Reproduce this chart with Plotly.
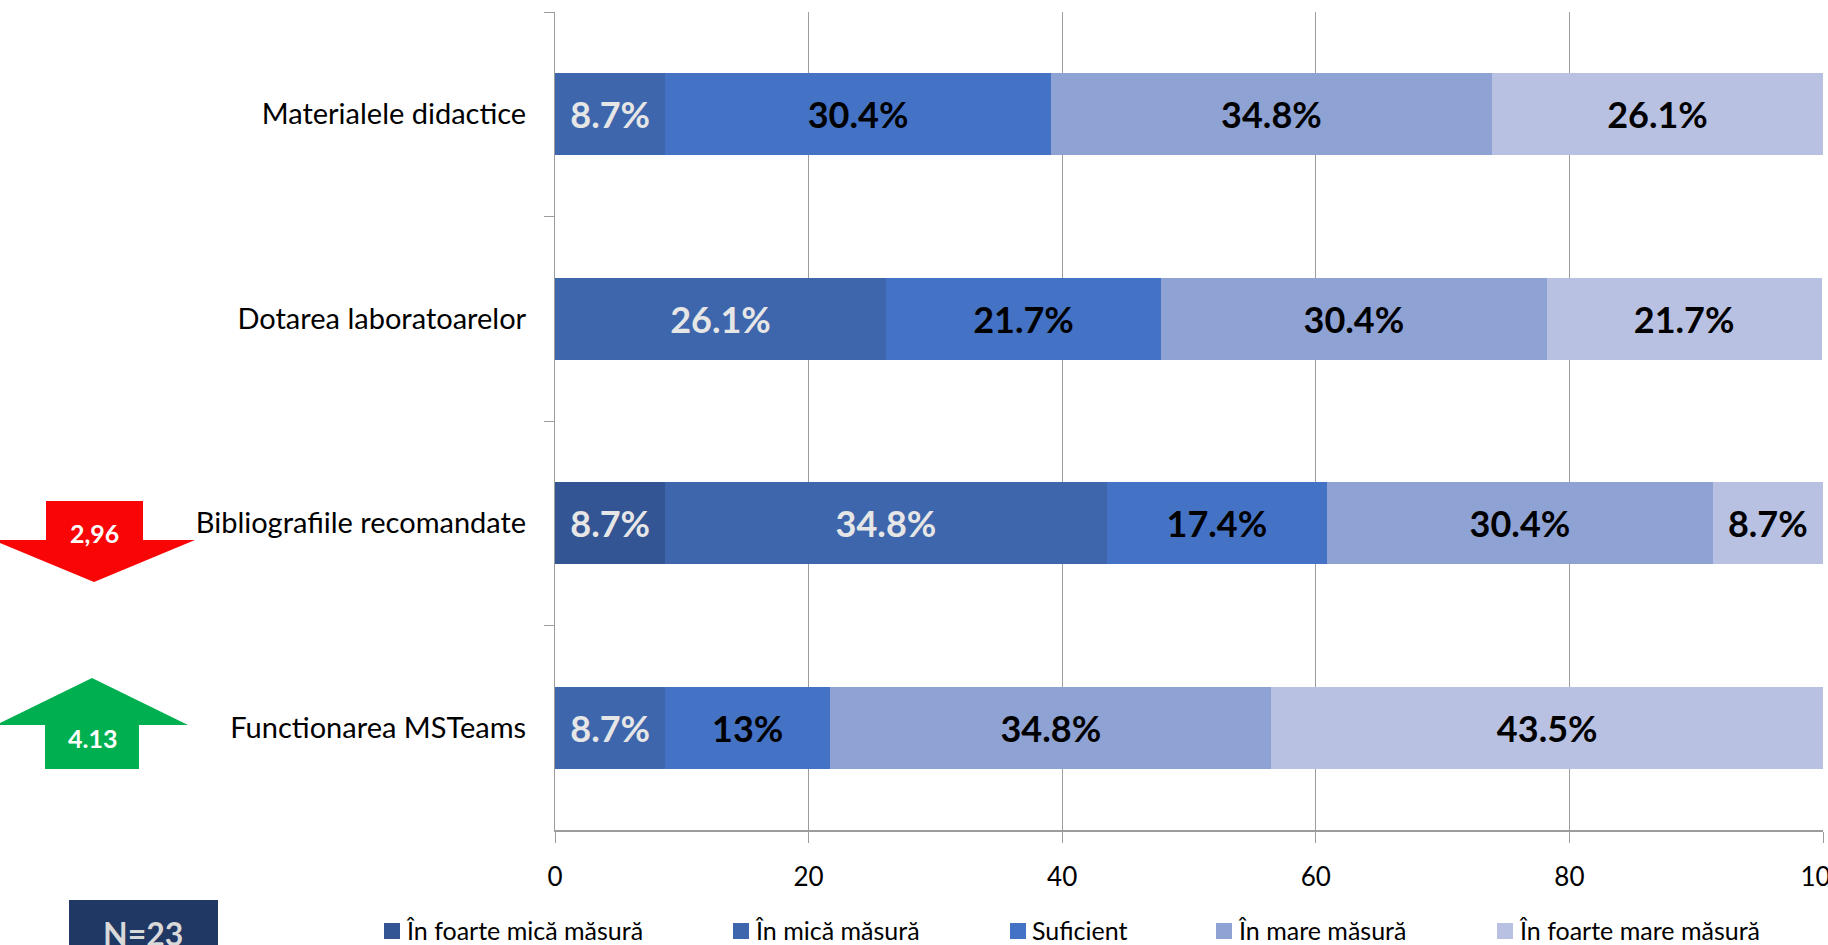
import plotly.graph_objects as go

categories = ["Materialele didactice", "Dotarea laboratoarelor", "Bibliografiile recomandate", "Functionarea MSTeams"]
series_names = ["În foarte mică măsură", "În mică măsură", "Suficient", "În mare măsură", "În foarte mare măsură"]
foarte_mica = [0, 0, 8.7, 0]
mica = [8.7, 26.1, 34.8, 8.7]
suficient = [30.4, 21.7, 17.4, 13]
mare = [34.8, 30.4, 30.4, 34.8]
foarte_mare = [26.1, 21.7, 8.7, 43.5]
series_values = [foarte_mica, mica, suficient, mare, foarte_mare]
colors = ["#335593", "#3E66AC", "#4472C4", "#8FA2D4", "#B8C1E2"]
label_colors = ["#E7E6E6", "#E7E6E6", "#000000", "#000000", "#000000"]
x_ticks = [0, 20, 40, 60, 80, 100]

FONT = "Lato"
W, H = 1828, 945
L, R, T, B = 555, 1823, 12, 830
GREY = "#9C9C9C"

def px(x):
    return (x - L) / (R - L)

def py(y):
    return (B - y) / (B - T)

def poly(points):
    return "M " + " L ".join(f"{px(x):.5f},{py(y):.5f}" for x, y in points) + " Z"

fig = go.Figure()
for name, vals, col, lc in zip(series_names, series_values, colors, label_colors):
    fig.add_trace(go.Bar(
        y=categories, x=vals, name=name, orientation="h",
        marker=dict(color=col, line=dict(width=0)),
        text=[f"{v:g}%" if v else "" for v in vals],
        textposition="inside", insidetextanchor="middle", textangle=0,
        constraintext="none",
        textfont=dict(family=FONT, size=36, color=lc, weight="bold"),
        showlegend=False, hoverinfo="skip",
    ))

shapes = [
    dict(type="path", xref="paper", yref="paper", line=dict(width=0), fillcolor="#FA0505",
         path=poly([(46, 501), (143, 501), (143, 540), (195, 540), (94, 582), (-7, 540), (46, 540)])),
    dict(type="path", xref="paper", yref="paper", line=dict(width=0), fillcolor="#00B050",
         path=poly([(45, 769), (139, 769), (139, 725), (188, 725), (92, 678), (-4, 725), (45, 725)])),
    dict(type="rect", xref="paper", yref="paper", line=dict(width=0), fillcolor="#203864",
         x0=px(69), x1=px(218), y0=py(900), y1=py(960)),
]
ann = [
    dict(text="<b>2,96</b>", x=px(94), y=py(533), font=dict(size=25, color="#FFFFFF")),
    dict(text="<b>4.13</b>", x=px(92), y=py(738), font=dict(size=25, color="#FFFFFF")),
    dict(text="<b>N=23</b>", x=px(143), y=py(933), font=dict(size=32, color="#D9D9D9")),
]
legend_x = [384, 733, 1010, 1216, 1497]
for name, col, lx in zip(series_names, colors, legend_x):
    shapes.append(dict(type="rect", xref="paper", yref="paper", line=dict(width=0), fillcolor=col,
                       x0=px(lx), x1=px(lx + 16), y0=py(923), y1=py(939)))
    ann.append(dict(text=name, x=px(lx + 20), y=py(930), xanchor="left", font=dict(size=25, color="#000000")))
for a in ann:
    a.update(xref="paper", yref="paper", showarrow=False, yanchor="middle")
    a.setdefault("xanchor", "center")
    a["font"]["family"] = FONT

fig.update_layout(
    barmode="stack", bargap=0.6, width=W, height=H,
    margin=dict(l=L, r=W - R, t=T, b=H - B, autoexpand=False),
    paper_bgcolor="#FFFFFF", plot_bgcolor="#FFFFFF",
    font=dict(family=FONT, size=27, color="#000000"),
    shapes=shapes, annotations=ann,
    xaxis=dict(range=[0, 100], tickvals=x_ticks, ticks="outside", ticklen=11, tickcolor=GREY, tickwidth=1,
               showgrid=True, gridcolor=GREY, gridwidth=1, zeroline=False, showline=True, linecolor=GREY,
               linewidth=2, tickfont=dict(size=26), ticklabelstandoff=12, ticklabeloverflow="allow",
               automargin=False),
    yaxis=dict(autorange="reversed", ticks="outside", tickson="boundaries", ticklen=10, tickcolor=GREY,
               showline=True, linecolor=GREY, linewidth=1, showgrid=False, zeroline=False,
               tickfont=dict(size=29), ticklabelstandoff=22, automargin=False),
)
fig.write_html("out.html", config=dict(displayModeBar=False),
               post_script="document.body.style.margin='0';document.body.style.overflow='hidden';")
